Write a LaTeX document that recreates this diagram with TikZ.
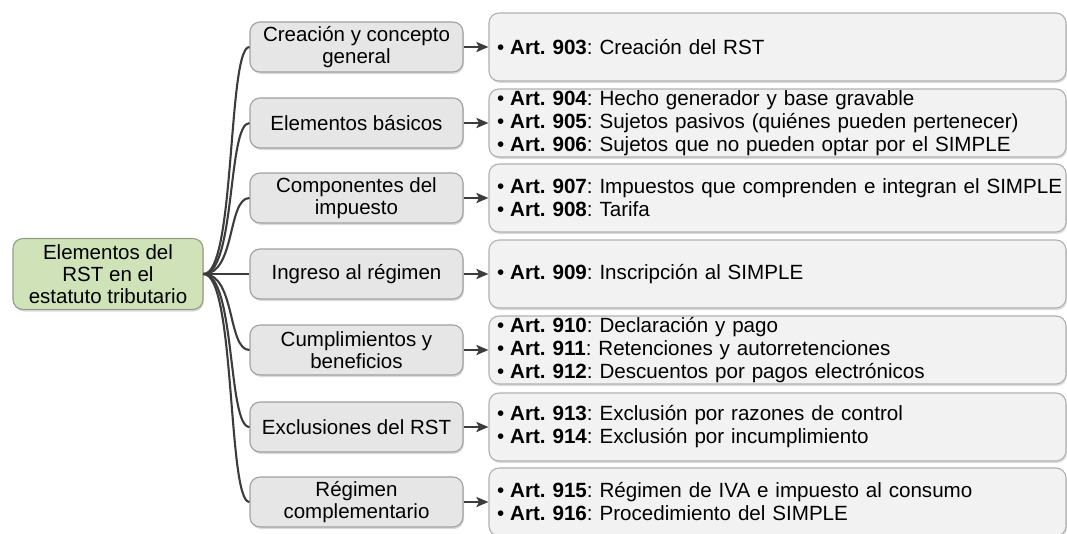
\documentclass[tikz,border=0pt]{standalone}
\usepackage{fontspec}
\setmainfont{Liberation Sans}
\usetikzlibrary{shadows,arrows.meta}
\definecolor{rootfill}{HTML}{CFE2B8}
\definecolor{rootdraw}{HTML}{939C88}
\definecolor{midfill}{HTML}{E6E6E6}
\definecolor{middraw}{HTML}{A0A0A0}
\definecolor{rightfill}{HTML}{F2F2F2}
\definecolor{rightdraw}{HTML}{B0B0B0}
\definecolor{lineclr}{HTML}{3C3C3C}
\tikzset{
  boxshadow/.style={drop shadow={opacity=0.28, shadow xshift=1pt, shadow yshift=-2pt}},
  rootbox/.style={draw=rootdraw, fill=rootfill, line width=1.1pt, rounded corners=10pt, boxshadow,
    minimum width=190pt, minimum height=71pt, align=center, inner sep=2pt,
    font=\fontsize{20.5}{22}\selectfont},
  midbox/.style={draw=middraw, fill=midfill, line width=1.1pt, rounded corners=10pt, boxshadow,
    minimum width=213pt, minimum height=50pt, align=center, inner sep=2pt,
    font=\fontsize{20.5}{22}\selectfont},
  rightbox/.style={draw=rightdraw, fill=rightfill, line width=1.1pt, rounded corners=10pt, boxshadow,
    minimum height=68pt, text width=575pt, align=left, inner xsep=1pt, inner ysep=1pt,
    font=\fontsize{20.6}{23}\selectfont\frenchspacing},
  conn/.style={draw=lineclr, line width=2.1pt},
  arr/.style={draw=lineclr, line width=2.1pt, -{Stealth[length=12pt,width=10pt,inset=2.5pt]}}
}
\newcommand{\art}[2]{\hspace*{7pt}\textbullet\hspace{6pt}\textbf{Art. #1}: #2}
\begin{document}
\begin{tikzpicture}[x=1pt,y=-1pt]
\useasboundingbox (0,0) rectangle (1067,533);
\node[rootbox] (root) at (108,274) {Elementos del\\RST en el\\estatuto tributario};

\node[midbox] (m1) at (356.5,47) {Creación y concepto\\general};
\node[midbox] (m2) at (356.5,123) {Elementos básicos};
\node[midbox] (m3) at (356.5,198) {Componentes del\\impuesto};
\node[midbox] (m4) at (356.5,274) {Ingreso al régimen};
\node[midbox] (m5) at (356.5,350) {Cumplimientos y\\beneficios};
\node[midbox] (m6) at (356.5,427) {Exclusiones del RST};
\node[midbox] (m7) at (356.5,502) {Régimen\\complementario};

\node[rightbox] (r1) at (777.5,47) {\art{903}{Creación del RST}};
\node[rightbox] (r2) at (777.5,123) {\art{904}{Hecho generador y base gravable}\\\art{905}{Sujetos pasivos (quiénes pueden pertenecer)}\\\art{906}{Sujetos que no pueden optar por el SIMPLE}};
\node[rightbox] (r3) at (777.5,198) {\art{907}{Impuestos que comprenden e integran el SIMPLE}\\\art{908}{Tarifa}};
\node[rightbox] (r4) at (777.5,274) {\art{909}{Inscripción al SIMPLE}};
\node[rightbox] (r5) at (777.5,350) {\art{910}{Declaración y pago}\\\art{911}{Retenciones y autorretenciones}\\\art{912}{Descuentos por pagos electrónicos}};
\node[rightbox] (r6) at (777.5,427) {\art{913}{Exclusión por razones de control}\\\art{914}{Exclusión por incumplimiento}};
\node[rightbox] (r7) at (777.5,502) {\art{915}{Régimen de IVA e impuesto al consumo}\\\art{916}{Procedimiento del SIMPLE}};

\foreach \n in {m1,m2,m3,m5,m6,m7}
  \draw[conn] (root.east) .. controls +(32,0) and +(-22,0) .. (\n.west);
\draw[conn] (root.east) -- (m4.west);

\foreach \i in {1,...,7}
  \draw[arr] (m\i.east) -- (r\i.west);
\end{tikzpicture}
\end{document}
